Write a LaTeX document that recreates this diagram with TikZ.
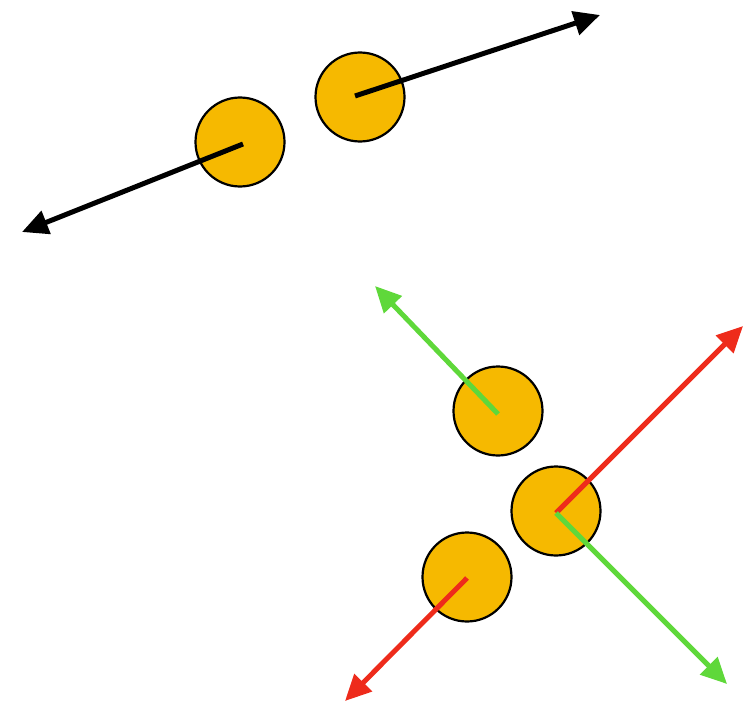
\documentclass[tikz,border=0pt]{standalone}
\usepackage{xcolor}
\usetikzlibrary{arrows.meta}

\definecolor{ballfill}{HTML}{F6B900}
\definecolor{pushgreen}{HTML}{5FD83A}
\definecolor{pushred}{HTML}{EE2B1B}

\begin{document}
\begin{tikzpicture}[
    x=1pt, y=-1pt,
    ball/.style={circle, draw, fill=ballfill, minimum size=89pt, inner sep=0pt, line width=2.2pt},
    vec/.style={-{Triangle[length=26pt, width=24pt]}, line width=5pt},
    greenvec/.style={vec, pushgreen},
    redvec/.style={vec, pushred}
]
\useasboundingbox (0,0) rectangle (743,706);

% Top pair
\node[ball] (ballA) at (240,142) {};
\node[ball] (ballB) at (360,97) {};
\coordinate (tipA) at (22,232);
\coordinate (tipB) at (600,15);

% Bottom group
\node[ball] (ballC) at (498,411) {};
\node[ball] (ballD) at (556,511) {};
\node[ball] (ballE) at (467,577) {};
\coordinate (tipC) at (375,286);
\coordinate (tipDr) at (743,326);
\coordinate (tipDg) at (727,684);
\coordinate (tipE) at (345,701);

% Arrows
\draw[vec] ([xshift=3pt,yshift=-2pt]ballA.center) -- (tipA);
\draw[vec] ([xshift=-5pt,yshift=1pt]ballB.center) -- (tipB);
\draw[greenvec] ([yshift=-3pt]ballC.center) -- (tipC);
\draw[redvec] ([yshift=-2pt]ballD.center) -- (tipDr);
\draw[greenvec] ([yshift=-2pt]ballD.center) -- (tipDg);
\draw[redvec] ([yshift=-1pt]ballE.center) -- (tipE);

\end{tikzpicture}
\end{document}
